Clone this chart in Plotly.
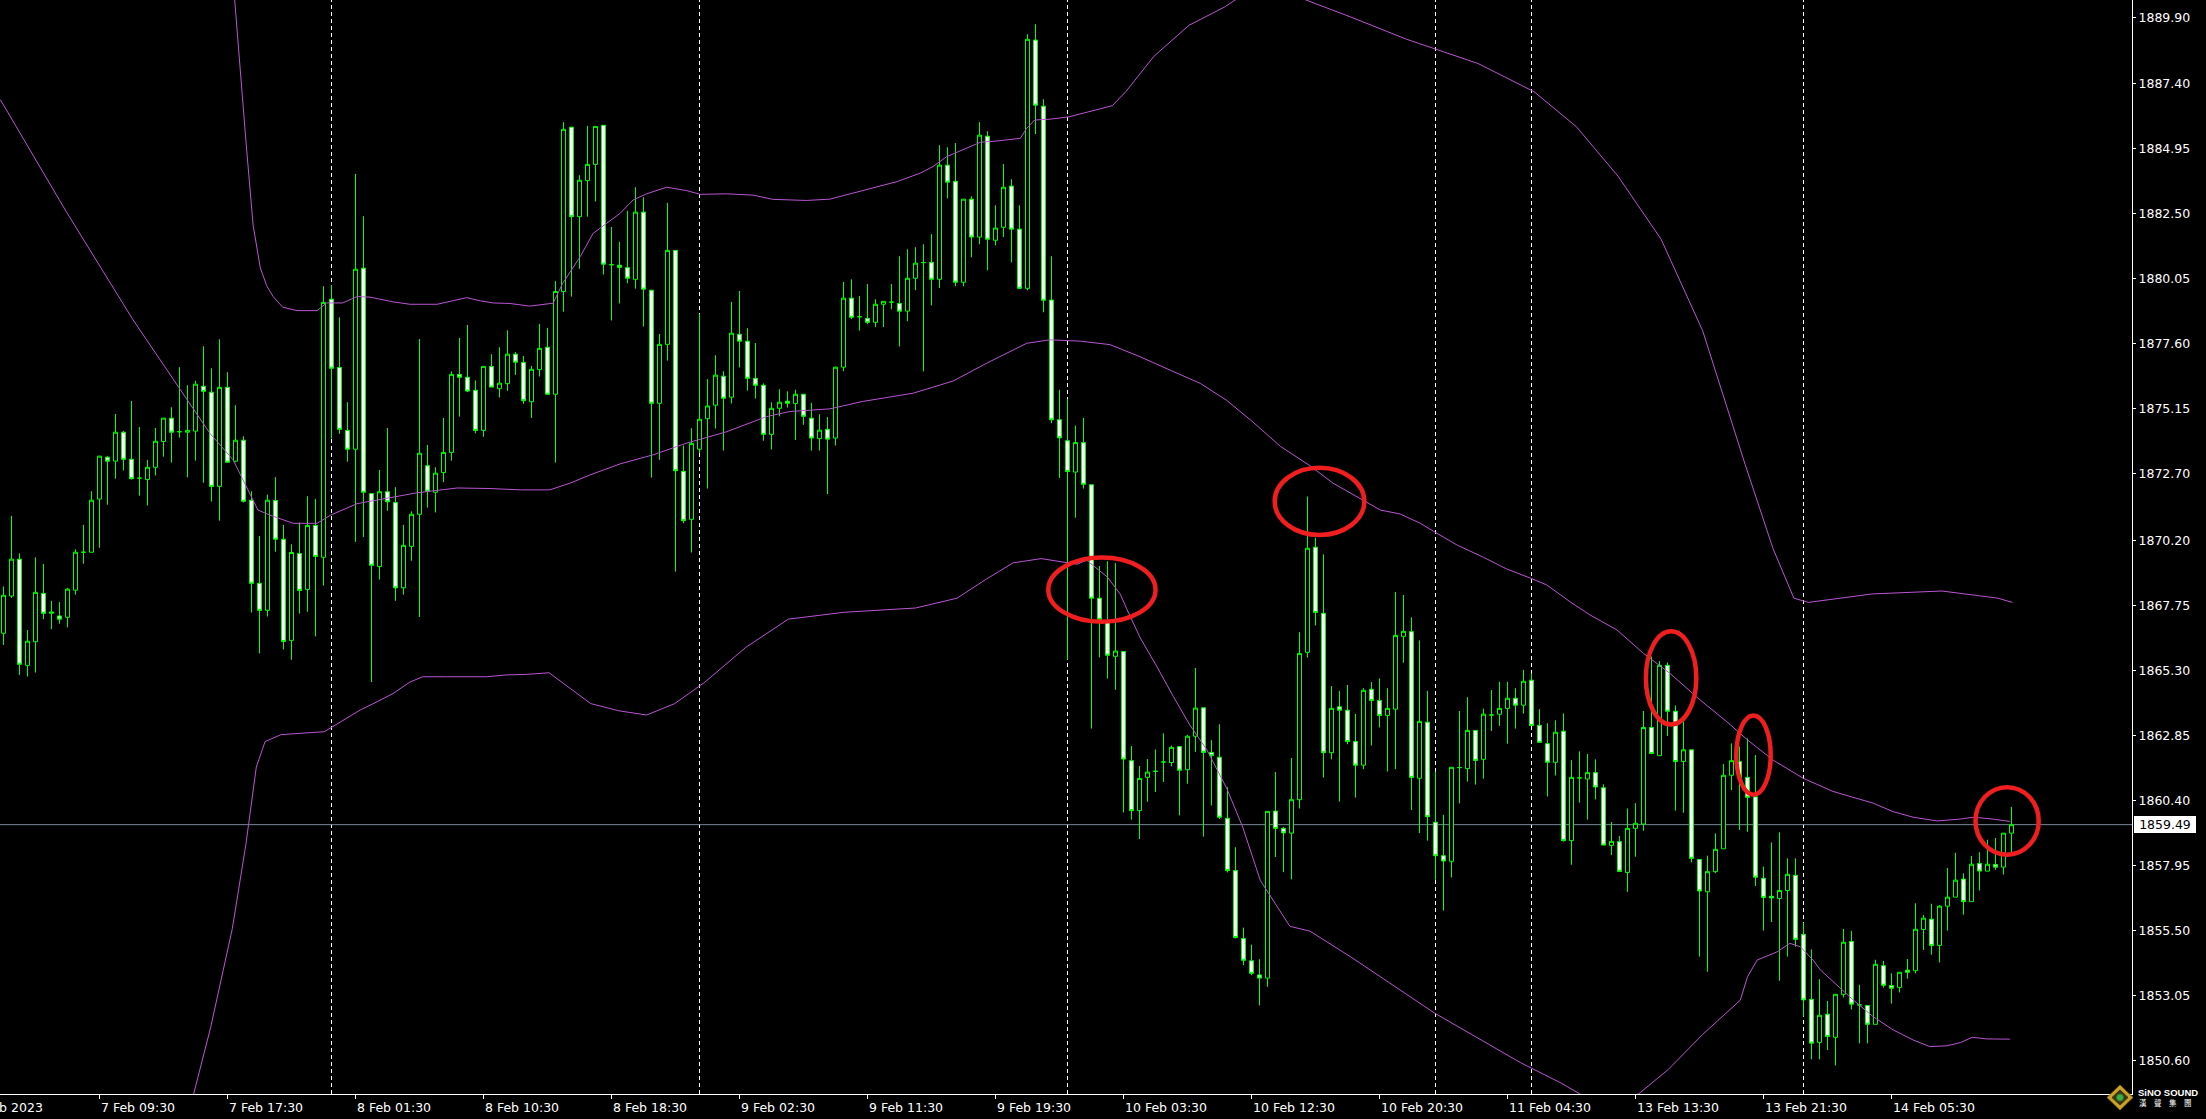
import plotly.graph_objects as go

# ---------------- data (XAUUSD M30) ----------------
opens = [1866.70,1868.10,1869.49,1865.49,1866.38,1868.20,1867.45,1867.35,1867.30,1868.32,
 1869.75,1869.75,1871.75,1873.33,1873.18,1874.27,1873.25,1872.54,1872.49,1872.95,
 1873.92,1874.80,1874.29,1874.27,1874.31,1876.00,1875.78,1872.23,1875.96,1873.18,
 1873.97,1871.71,1868.58,1867.56,1871.70,1870.24,1866.43,1869.70,1868.35,1870.76,
 1869.56,1879.28,1876.71,1874.34,1873.63,1880.45,1871.96,1869.21,1872.03,1871.62,
 1868.41,1869.97,1871.18,1873.01,1872.01,1872.75,1873.51,1876.45,1876.34,1875.85,
 1874.34,1876.75,1875.91,1876.10,1877.21,1876.90,1875.42,1876.63,1877.47,1875.70,
 1879.57,1885.76,1882.39,1883.75,1884.36,1885.83,1880.58,1880.56,1880.47,1880.03,
 1882.56,1879.62,1875.36,1877.58,1881.12,1872.80,1870.99,1873.63,1874.78,1875.29,
 1876.38,1875.59,1877.96,1877.70,1876.30,1876.04,1874.19,1875.17,1875.44,1875.35,
 1875.70,1874.80,1874.03,1874.38,1874.05,1876.72,1879.32,1878.62,1878.56,1878.41,
 1879.09,1879.17,1879.12,1878.83,1880.07,1880.66,1880.67,1880.03,1884.33,1883.72,
 1879.92,1883.05,1881.62,1885.42,1881.50,1881.99,1883.54,1881.92,1879.69,1889.04,
 1886.55,1879.25,1874.74,1873.95,1872.77,1873.88,1872.29,1868.02,1867.16,1865.83,
 1866.01,1861.90,1860.02,1861.27,1861.50,1861.85,1861.83,1862.43,1861.56,1862.82,
 1863.89,1862.21,1862.03,1859.73,1857.76,1855.20,1854.36,1853.83,1853.71,1860.00,
 1859.35,1859.17,1860.43,1865.98,1869.94,1867.45,1862.20,1863.93,1863.80,1862.62,
 1861.73,1864.59,1864.17,1863.60,1863.84,1866.58,1866.76,1861.24,1863.35,1859.58,
 1858.32,1858.11,1861.64,1861.60,1863.04,1861.95,1863.62,1863.65,1863.87,1864.25,
 1863.99,1864.93,1863.23,1862.54,1861.84,1863.01,1858.89,1861.25,1861.21,1861.45,
 1860.88,1858.71,1858.85,1857.69,1859.35,1859.51,1863.15,1862.09,1865.49,1863.76,
 1861.87,1862.31,1858.18,1856.96,1857.72,1858.58,1861.35,1861.87,1861.27,1860.54,
 1857.47,1856.79,1856.71,1857.01,1857.58,1855.36,1852.91,1851.29,1852.35,1851.48,
 1853.10,1855.09,1852.70,1852.68,1851.97,1854.18,1853.43,1853.36,1854.01,1853.99,
 1855.54,1855.93,1854.94,1856.42,1856.76,1857.44,1856.59,1858.03,1857.74,1857.99,
 1857.89,1859.17]
highs = [1868.46,1871.12,1869.71,1866.82,1869.56,1869.31,1867.92,1867.87,1868.41,1869.86,
 1870.78,1872.05,1873.37,1873.38,1874.96,1874.32,1875.45,1874.47,1873.23,1874.43,
 1874.80,1875.21,1876.72,1876.04,1876.21,1877.51,1876.68,1877.77,1876.53,1875.29,
 1874.12,1872.05,1870.36,1871.92,1872.58,1870.78,1870.05,1870.87,1871.86,1871.76,
 1879.77,1879.82,1878.60,1875.40,1884.00,1882.41,1871.96,1872.85,1874.43,1872.20,
 1870.78,1871.29,1877.78,1873.79,1872.95,1874.81,1876.56,1877.82,1878.31,1876.22,
 1876.75,1877.21,1877.47,1878.11,1877.29,1877.14,1876.77,1878.35,1878.20,1879.96,
 1885.95,1885.76,1883.95,1885.81,1885.79,1885.83,1882.00,1881.44,1882.61,1883.50,
 1883.12,1879.62,1877.97,1882.91,1881.12,1873.77,1874.42,1878.73,1876.27,1877.17,
 1876.57,1879.18,1879.59,1878.19,1877.63,1876.11,1875.40,1875.89,1875.81,1875.87,
 1875.70,1875.38,1874.95,1874.84,1876.74,1879.93,1880.03,1879.40,1879.85,1879.28,
 1879.20,1879.85,1880.90,1881.16,1881.24,1881.35,1881.73,1885.08,1885.00,1885.16,
 1883.05,1883.16,1885.95,1885.61,1882.82,1884.37,1883.80,1882.82,1889.26,1889.64,
 1886.81,1880.90,1875.87,1875.52,1874.52,1874.81,1872.29,1869.23,1869.41,1869.34,
 1866.01,1862.45,1861.70,1861.96,1862.32,1862.93,1862.47,1862.43,1862.87,1865.39,
 1863.89,1862.67,1863.27,1860.90,1858.64,1855.61,1854.97,1854.42,1859.99,1861.47,
 1859.40,1862.00,1866.74,1871.85,1870.30,1869.67,1864.71,1864.53,1864.75,1863.66,
 1864.63,1864.86,1865.00,1864.63,1868.25,1868.14,1867.30,1866.43,1864.53,1861.49,
 1859.86,1861.65,1863.77,1864.29,1863.04,1863.86,1864.56,1864.87,1864.87,1864.63,
 1865.32,1865.19,1863.84,1863.31,1863.42,1863.68,1861.92,1862.25,1862.15,1861.95,
 1861.01,1859.59,1859.06,1860.10,1860.30,1863.77,1865.82,1865.65,1865.60,1863.98,
 1863.38,1862.31,1858.18,1858.32,1859.16,1861.77,1862.55,1862.43,1862.74,1862.11,
 1857.91,1858.82,1859.20,1858.22,1858.22,1855.80,1854.79,1853.67,1852.85,1853.10,
 1855.56,1855.49,1853.46,1852.68,1854.40,1854.36,1853.89,1853.93,1854.43,1856.53,
 1856.09,1856.51,1856.46,1857.86,1858.43,1857.66,1858.31,1858.45,1858.92,1858.99,
 1859.17,1860.16]
lows = [1866.26,1868.03,1865.13,1865.07,1865.22,1867.23,1866.85,1867.06,1866.92,1868.15,
 1869.32,1869.75,1869.92,1871.54,1872.52,1872.83,1872.49,1871.88,1871.51,1872.64,
 1873.35,1873.13,1874.07,1872.57,1873.20,1872.37,1871.66,1870.94,1873.14,1873.14,
 1871.62,1867.48,1865.94,1867.33,1869.77,1866.09,1865.70,1867.44,1867.51,1866.58,
 1868.49,1874.03,1874.21,1873.16,1870.14,1870.32,1864.86,1868.72,1871.31,1867.92,
 1868.15,1869.43,1867.31,1871.43,1871.25,1872.39,1873.20,1874.86,1875.78,1874.23,
 1874.10,1875.97,1875.58,1875.83,1876.43,1875.34,1874.81,1876.37,1875.70,1873.13,
 1878.81,1879.38,1880.43,1882.39,1882.96,1880.21,1878.48,1879.12,1879.88,1879.68,
 1878.25,1872.56,1873.23,1876.97,1869.02,1870.84,1869.74,1873.48,1872.15,1874.41,
 1873.58,1875.35,1876.71,1875.84,1875.54,1873.95,1873.62,1874.87,1875.20,1873.98,
 1874.55,1873.58,1873.58,1871.94,1873.77,1876.57,1878.53,1878.10,1878.34,1878.23,
 1878.23,1878.90,1877.50,1878.45,1879.62,1876.56,1879.05,1879.70,1883.08,1879.77,
 1879.77,1880.86,1881.35,1880.37,1881.31,1881.62,1880.67,1879.66,1879.62,1885.50,
 1878.79,1874.61,1872.55,1865.70,1871.05,1872.15,1863.11,1865.79,1864.99,1864.57,
 1859.95,1859.68,1858.95,1860.35,1860.72,1861.10,1861.69,1859.84,1861.03,1862.23,
 1859.04,1860.21,1859.70,1857.69,1855.20,1854.20,1853.82,1852.68,1853.38,1858.27,
 1857.70,1857.43,1860.10,1865.78,1866.99,1861.26,1861.95,1860.36,1862.52,1860.51,
 1861.58,1862.47,1863.15,1861.49,1861.58,1865.59,1860.04,1859.17,1858.89,1857.41,
 1856.25,1857.50,1860.29,1861.11,1861.00,1861.22,1863.02,1863.21,1862.54,1863.11,
 1863.67,1863.22,1862.59,1860.55,1861.34,1858.85,1857.98,1860.32,1859.68,1860.44,
 1858.72,1858.35,1857.73,1856.96,1858.28,1859.26,1862.17,1862.09,1862.83,1860.02,
 1859.94,1858.07,1854.52,1853.95,1857.66,1858.58,1860.79,1859.29,1859.22,1857.18,
 1855.50,1855.82,1853.61,1854.52,1854.89,1852.26,1850.65,1850.65,1851.00,1850.42,
 1852.98,1852.53,1851.25,1851.25,1851.97,1853.35,1852.75,1853.17,1853.69,1853.89,
 1854.77,1854.59,1854.30,1855.50,1856.76,1856.10,1856.59,1857.01,1857.74,1857.79,
 1857.61,1858.45]
closes = [1868.13,1869.49,1865.53,1866.40,1868.24,1867.45,1867.50,1867.23,1868.36,1869.75,
 1869.75,1871.71,1873.37,1873.18,1874.27,1873.25,1872.52,1872.54,1872.95,1873.93,
 1874.80,1874.27,1874.29,1874.34,1876.08,1875.81,1872.23,1875.96,1873.14,1873.97,
 1871.67,1868.58,1867.56,1871.71,1870.24,1866.39,1869.74,1868.31,1870.76,1869.59,
 1879.16,1876.68,1874.38,1873.63,1880.41,1872.01,1869.26,1872.03,1871.65,1868.41,
 1870.01,1871.18,1873.48,1872.05,1872.73,1873.51,1876.45,1876.34,1875.82,1874.34,
 1876.75,1875.97,1876.12,1877.21,1876.91,1875.46,1876.64,1877.43,1875.70,1879.57,
 1885.68,1882.39,1883.76,1884.36,1885.79,1880.60,1880.58,1880.48,1880.07,1882.56,
 1879.66,1875.36,1877.58,1881.12,1872.82,1870.94,1873.85,1874.76,1875.26,1876.42,
 1875.55,1878.00,1877.70,1876.30,1876.04,1874.19,1875.17,1875.40,1875.36,1875.70,
 1874.87,1874.05,1874.35,1874.01,1876.72,1879.32,1878.60,1878.62,1878.41,1879.09,
 1879.20,1879.17,1878.83,1880.07,1880.64,1880.66,1880.03,1884.33,1883.69,1879.92,
 1883.05,1881.62,1885.46,1881.54,1881.96,1883.50,1881.92,1879.69,1889.07,1886.59,
 1879.24,1874.74,1874.06,1872.79,1873.88,1872.31,1868.02,1867.22,1865.87,1866.03,
 1861.96,1860.02,1861.23,1861.47,1861.50,1861.85,1862.40,1861.54,1862.82,1863.88,
 1862.21,1862.09,1859.77,1857.76,1855.24,1854.38,1853.89,1853.71,1859.99,1859.35,
 1859.18,1860.43,1865.94,1869.90,1867.48,1862.20,1863.87,1863.80,1862.62,1861.73,
 1864.55,1864.17,1863.60,1863.87,1866.62,1866.77,1861.27,1863.38,1859.79,1858.32,
 1858.12,1861.65,1861.64,1863.04,1861.91,1863.65,1863.62,1863.87,1864.25,1863.99,
 1864.89,1863.22,1862.59,1861.84,1862.97,1858.89,1861.27,1861.25,1861.45,1860.91,
 1858.72,1858.86,1857.73,1859.35,1859.54,1863.15,1862.17,1865.49,1863.76,1861.87,
 1862.31,1858.22,1856.99,1857.72,1858.56,1861.35,1861.90,1861.27,1860.52,1857.51,
 1856.75,1856.73,1857.01,1857.62,1855.17,1852.89,1851.26,1852.31,1851.51,1853.10,
 1855.06,1852.73,1852.70,1851.97,1854.23,1853.44,1853.33,1853.93,1853.93,1855.55,
 1855.97,1854.94,1856.42,1856.76,1857.40,1856.59,1858.00,1857.74,1858.00,1857.89,
 1859.17,1859.49]
bars = list(range(len(opens)))

# time labels (bar index where each label sits, label text)
time_label_bars = [12, 28, 44, 60, 76, 92, 108, 124, 140, 156, 172, 188, 204, 220, 236]
time_label_text = ["7 Feb 09:30", "7 Feb 17:30", "8 Feb 01:30", "8 Feb 10:30", "8 Feb 18:30",
                   "9 Feb 02:30", "9 Feb 11:30", "9 Feb 19:30", "10 Feb 03:30", "10 Feb 12:30",
                   "10 Feb 20:30", "11 Feb 04:30", "13 Feb 13:30", "13 Feb 21:30", "14 Feb 05:30"]
first_label_bar = -4
first_label_text = "7 Feb 2023"
day_start_bars = [41, 87, 133, 179, 191, 225]

price_ticks = [1889.90, 1887.40, 1884.95, 1882.50, 1880.05, 1877.60, 1875.15, 1872.70, 1870.20,
               1867.75, 1865.30, 1862.85, 1860.40, 1857.95, 1855.50, 1853.05, 1850.60]
last_price = 1859.49

# Bollinger bands (bar position, value)
upper_band = [(27.7,1894.0),(28.9,1890.55),(30.3,1885.25),(31.2,1882.07),(32.1,1880.46),(32.9,1879.79),
 (33.7,1879.38),(34.9,1878.98),(36.7,1878.85),(39.2,1878.85),(40.4,1879.14),(42.4,1879.14),(44.2,1879.38),
 (45.8,1879.36),(48.7,1879.18),(50.8,1879.09),(54.2,1879.09),(57.1,1879.28),(57.9,1879.34),(59.6,1879.22),
 (61.2,1879.14),(63.3,1879.12),(65.8,1879.02),(68.7,1879.13),(69.9,1879.88),(72.1,1880.89),(73.7,1881.76),
 (75.4,1882.14),(77.1,1882.52),(78.7,1883.02),(80.4,1883.25),(82.9,1883.50),(85.4,1883.37),(87.1,1883.23),
 (90.4,1883.25),(93.7,1883.20),(96.2,1883.04),(98.3,1883.02),(100.4,1883.00),(103.3,1883.05),(107.4,1883.36),
 (111.7,1883.71),(114.6,1884.03),(116.2,1884.28),(117.9,1884.65),(119.9,1884.91),(122.1,1885.19),
 (124.2,1885.24),(127.1,1885.34),(127.9,1885.72),(128.9,1886.03),(130.8,1886.06),(133.2,1886.15),
 (138.6,1886.57),(140.3,1887.10),(143.8,1888.43),(148.2,1889.60),(152.6,1890.28),(157.7,1891.30),
 (162.8,1890.55),(168.4,1889.91),(175.4,1889.07),(184.3,1888.16),(191.3,1887.10),(196.6,1885.78),
 (201.8,1883.92),(207.2,1881.54),(212.4,1878.09),(217.7,1873.06),(221.2,1869.88),(223.8,1868.02),
 (225.6,1867.86),(233.6,1868.18),(242.3,1868.29),(249.3,1868.02),(251.1,1867.86)]
middle_band = [(-0.4,1886.8),(7.8,1882.6),(16.2,1878.5),(22.1,1875.86),(25.8,1874.23),(28.7,1873.23),
 (30.6,1872.10),(31.8,1871.34),(33.3,1871.15),(36.2,1870.84),(39.2,1870.84),(40.9,1871.15),(44.2,1871.58),
 (48.0,1871.78),(51.7,1871.99),(56.7,1872.17),(60.8,1872.15),(64.6,1872.10),(68.3,1872.10),(70.8,1872.35),
 (73.3,1872.66),(77.1,1873.08),(81.2,1873.42),(85.4,1873.86),(90.4,1874.29),(95.4,1874.86),(98.3,1875.05),
 (103.3,1875.15),(107.4,1875.43),(113.7,1875.74),(118.7,1876.20),(122.9,1876.87),(126.2,1877.37),
 (127.9,1877.62),(130.8,1877.75),(134.6,1877.70),(138.3,1877.57),(142.1,1877.11),(146.2,1876.56),
 (149.6,1876.11),(152.9,1875.47),(156.2,1874.65),(159.6,1873.74),(163.3,1873.01),(166.2,1872.35),
 (169.6,1871.78),(172.1,1871.34),(174.6,1871.19),(177.1,1870.84),(179.2,1870.46),(181.7,1870.02),
 (185.0,1869.56),(187.9,1869.12),(190.9,1868.77),(192.9,1868.52),(195.8,1867.89),(198.3,1867.39),
 (201.7,1866.82),(205.0,1865.94),(208.3,1865.19),(212.1,1864.18),(215.4,1863.37),(218.0,1862.68),
 (221.2,1861.92),(225.0,1861.23),(228.7,1860.74),(231.2,1860.52),(233.7,1860.30),(236.2,1859.98),
 (238.7,1859.77),(241.7,1859.63),(244.6,1859.70),(246.2,1859.77),(248.7,1859.70),(250.8,1859.61)]
lower_band = [(20.8,1844.5),(23.8,1849.38),(25.9,1851.86),(28.6,1855.57),(30.3,1858.75),(31.6,1861.66),
 (32.7,1862.62),(34.7,1862.88),(40.1,1862.99),(44.6,1863.81),(46.7,1864.12),(48.7,1864.43),(50.8,1864.86),
 (52.4,1865.06),(55.4,1865.06),(60.4,1865.06),(62.9,1865.13),(65.4,1865.15),(68.2,1865.21),(69.9,1864.84),
 (73.4,1864.05),(76.9,1863.78),(80.4,1863.62),(83.9,1864.05),(87.6,1864.84),(92.8,1866.17),(98.1,1867.23),
 (105.1,1867.49),(114.0,1867.65),(119.2,1868.02),(122.7,1868.71),(126.2,1869.35),(129.7,1869.51),
 (134.2,1869.30),(135.4,1869.45),(138.0,1868.81),(139.6,1868.17),(140.4,1867.62),(142.1,1866.52),
 (144.2,1865.43),(146.2,1864.33),(148.3,1863.24),(150.4,1862.32),(152.9,1860.86),(154.9,1859.40),
 (157.1,1857.39),(158.7,1856.66),(160.8,1855.66),(163.3,1855.48),(168.4,1854.51),(178.9,1852.39),
 (189.6,1850.53),(194.8,1849.74),(199.6,1848.90),(204.4,1849.35),(208.1,1850.27),(212.4,1851.59),
 (217.1,1852.88),(218.0,1853.76),(219.2,1854.39),(221.7,1854.70),(223.3,1855.02),(224.6,1854.89),
 (226.2,1854.39),(227.1,1854.02),(228.7,1853.58),(231.2,1852.89),(233.7,1852.26),(236.2,1851.76),
 (238.7,1851.38),(240.8,1851.13),(242.9,1851.16),(244.6,1851.28),(246.1,1851.48),(247.9,1851.42),
 (250.8,1851.41)]

# hand-drawn red ellipses: (bar from, bar to, price low, price high)
highlights = [(130.6, 144.0, 1867.13, 1869.55),
              (158.9, 170.1, 1870.40, 1872.93),
              (205.3, 211.6, 1863.26, 1866.77),
              (216.6, 220.9, 1860.62, 1863.60),
              (246.5, 254.4, 1858.36, 1860.90)]

# ---------------- styling / layout ----------------
W, H = 2206, 1119
PLOT_W, PLOT_H = 2132, 1094
XMIN, XMAX = -0.4375, 266.0625
YMIN, YMAX = 1849.345, 1890.55
FONT = "DejaVu Sans"
GREEN = "#00FF00"
BAND = "#BA55D3"
RED = "#F01E1E"

def bar_paper(b):
    return (b - XMIN) / (XMAX - XMIN)

def xp(px):
    return px / PLOT_W

def yp(py):
    return (PLOT_H - py) / PLOT_H

fig = go.Figure()
fig.add_trace(go.Candlestick(
    x=bars, open=opens, high=highs, low=lows, close=closes,
    increasing=dict(line=dict(color=GREEN, width=1), fillcolor="#000000"),
    decreasing=dict(line=dict(color=GREEN, width=1), fillcolor="#FFFFFF"),
    whiskerwidth=0, hoverinfo="skip", showlegend=False))

for band in (upper_band, middle_band, lower_band):
    fig.add_trace(go.Scatter(x=[p[0] for p in band], y=[p[1] for p in band], mode="lines",
                             line=dict(color=BAND, width=1), hoverinfo="skip", showlegend=False))

shapes = []
for b in day_start_bars:
    shapes.append(dict(type="line", xref="x", yref="paper", x0=b, x1=b, y0=0, y1=1,
                       line=dict(color="#FFFFFF", width=1, dash="4px,3px"), layer="below"))
shapes.append(dict(type="line", xref="paper", yref="y", x0=0, x1=1, y0=last_price, y1=last_price,
                   line=dict(color="#778899", width=1), layer="below"))
for (b0, b1, p0, p1) in highlights:
    shapes.append(dict(type="circle", xref="x", yref="y", x0=b0, x1=b1, y0=p0, y1=p1,
                       line=dict(color=RED, width=4.5), layer="above"))

# logo diamond (bottom right corner)
cx, cy = 2120, 1097.5
shapes.append(dict(type="path", xref="paper", yref="paper",
                   path=f"M {xp(cx-13)},{yp(cy)} L {xp(cx)},{yp(cy-12.5)} L {xp(cx+13)},{yp(cy)} L {xp(cx)},{yp(cy+12.5)} Z",
                   fillcolor="#C9A227", line=dict(color="#8A6D12", width=1), layer="above"))
shapes.append(dict(type="path", xref="paper", yref="paper",
                   path=f"M {xp(cx-8)},{yp(cy)} L {xp(cx)},{yp(cy-7.5)} L {xp(cx+8)},{yp(cy)} L {xp(cx)},{yp(cy+7.5)} Z",
                   fillcolor="#3B3414", line=dict(color="#3B3414", width=1), layer="above"))
shapes.append(dict(type="circle", xref="paper", yref="paper",
                   x0=xp(cx-3.5), x1=xp(cx+3.5), y0=yp(cy+3.5), y1=yp(cy-3.5),
                   fillcolor="#3FAE49", line=dict(color="#2A7A30", width=1), layer="above"))

annotations = []
for b, t in zip([first_label_bar] + time_label_bars, [first_label_text] + time_label_text):
    annotations.append(dict(text=t, xref="paper", yref="paper", x=bar_paper(b), y=0,
                            xanchor="left", yanchor="middle", xshift=-1, yshift=-13,
                            showarrow=False, font=dict(family=FONT, size=12.5, color="#FFFFFF")))
annotations.append(dict(text=f"{last_price:.2f}", xref="paper", yref="y", x=xp(2134), y=last_price,
                        xanchor="left", yanchor="middle", showarrow=False, bgcolor="#FFFFFF",
                        width=60, height=15, borderpad=1, borderwidth=0, align="center",
                        font=dict(family=FONT, size=12.5, color="#000000")))
annotations.append(dict(text="<b>SiNO SOUND</b>", xref="paper", yref="paper", x=xp(2136), y=yp(1092),
                        xanchor="left", yanchor="middle", showarrow=False,
                        font=dict(family="Liberation Sans", size=9.5, color="#FFFFFF")))
annotations.append(dict(text="漢　聲　集　團", xref="paper", yref="paper", x=xp(2137), y=yp(1102),
                        xanchor="left", yanchor="middle", showarrow=False,
                        font=dict(family="Noto Sans CJK TC", size=7.5, color="#FFFFFF")))

fig.update_layout(
    width=W, height=H,
    margin=dict(l=0, r=W - PLOT_W, t=0, b=H - PLOT_H, pad=0),
    paper_bgcolor="#000000", plot_bgcolor="#000000",
    showlegend=False, boxgap=0.5, boxgroupgap=0,
    shapes=shapes, annotations=annotations,
    xaxis=dict(range=[XMIN, XMAX], showgrid=False, zeroline=False, rangeslider=dict(visible=False),
               showline=True, linecolor="#FFFFFF", linewidth=1,
               ticks="outside", ticklen=4, tickcolor="#FFFFFF", tickwidth=1,
               tickvals=time_label_bars, showticklabels=False, fixedrange=True),
    yaxis=dict(range=[YMIN, YMAX], side="right", showgrid=False, zeroline=False,
               showline=True, linecolor="#FFFFFF", linewidth=1,
               ticks="outside", ticklen=3, tickcolor="#FFFFFF", tickwidth=1,
               tickvals=price_ticks, ticktext=[f"{v:.2f}" for v in price_ticks],
               tickfont=dict(family=FONT, size=12.5, color="#FFFFFF"), fixedrange=True),
)

fig.write_html("out.html", config={"displayModeBar": False, "staticPlot": True},
               post_script="document.body.style.margin='0';document.body.style.overflow='hidden';")
